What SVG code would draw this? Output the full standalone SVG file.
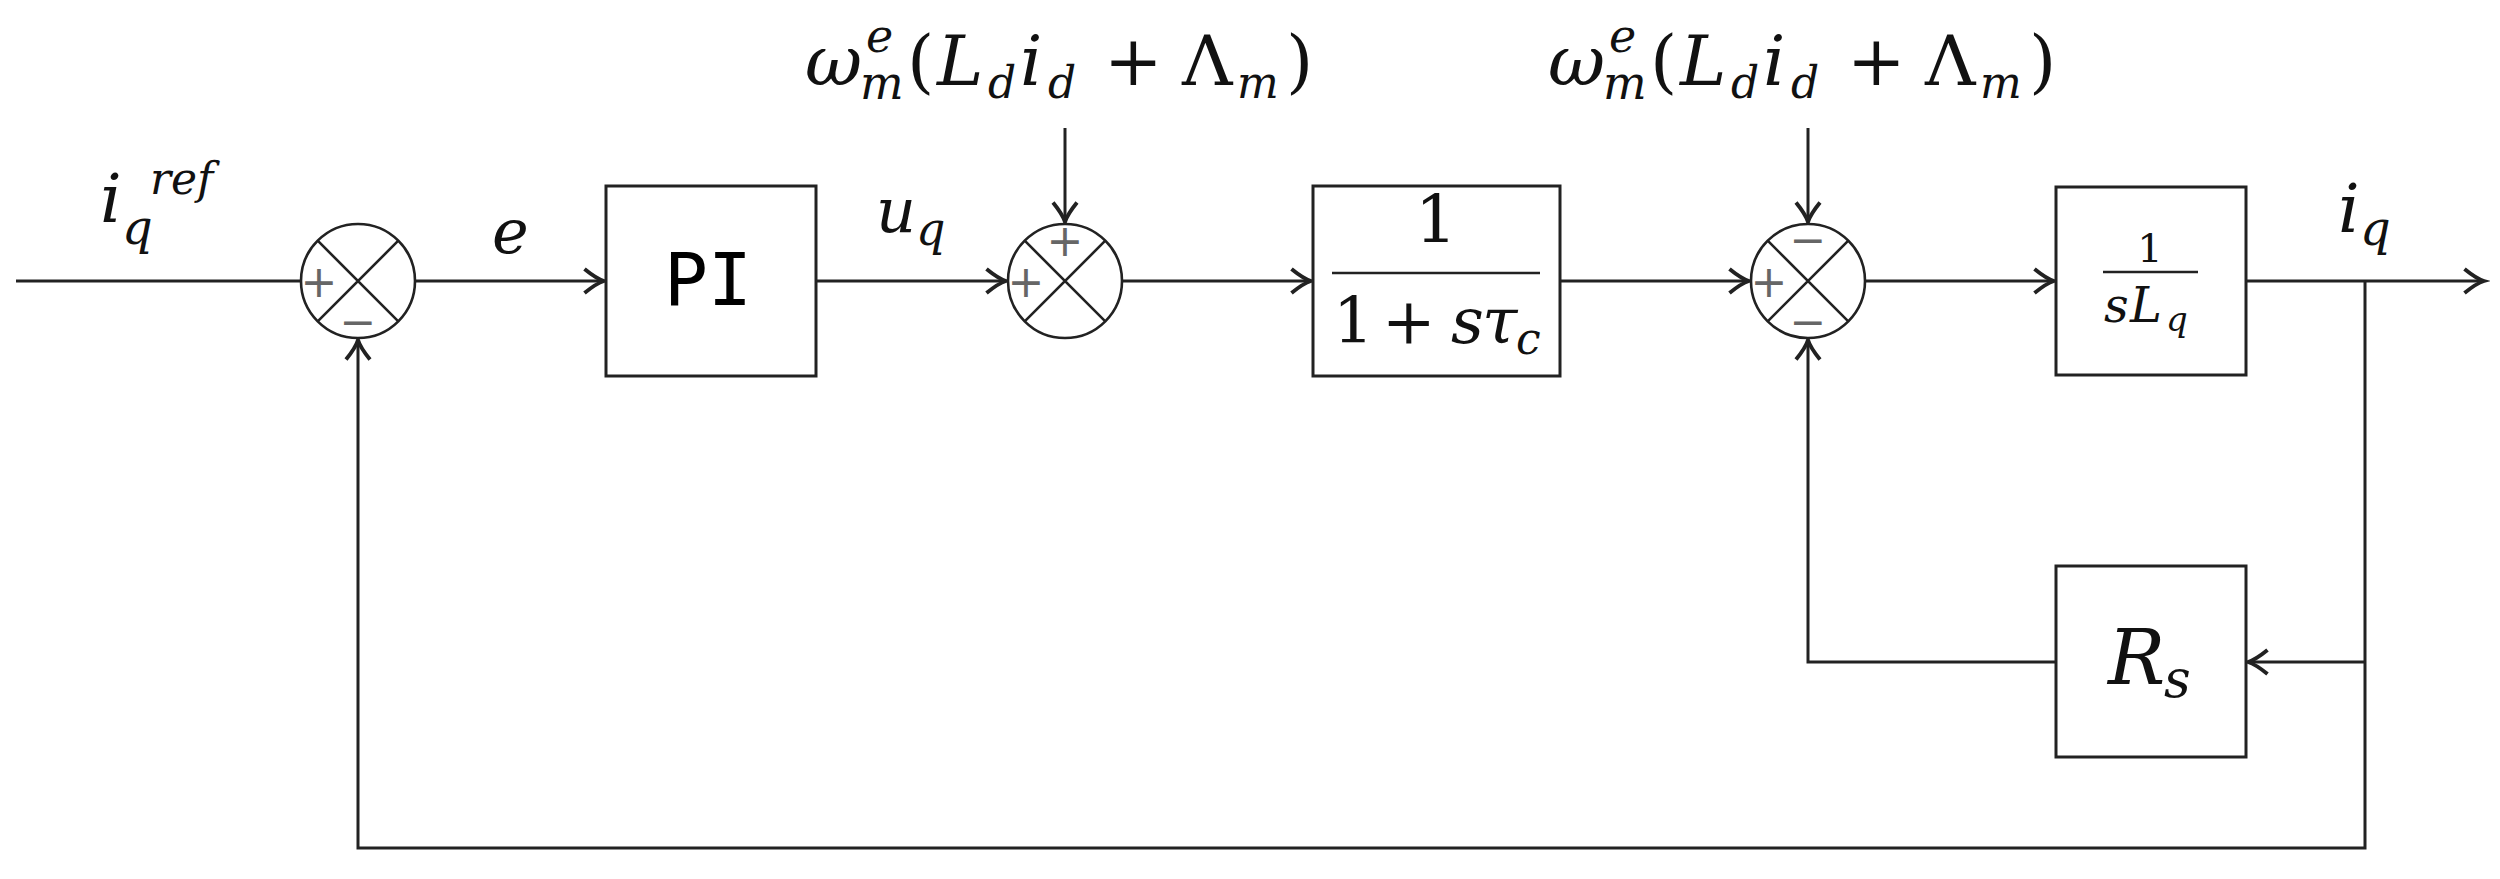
<svg xmlns="http://www.w3.org/2000/svg" width="2500" height="879" viewBox="0 0 2500 879">
<style>
.ln{fill:none;stroke:#222;stroke-width:3}
.bx{fill:#fff;stroke:#222;stroke-width:3}
.sum{fill:#fff;stroke:#222;stroke-width:2.6}
.x{stroke:#222;stroke-width:2.6}
.m{font-family:"DejaVu Serif",serif;font-style:italic;fill:#111}
.r{font-family:"DejaVu Serif",serif;font-style:normal;fill:#111}
.sg{font-family:"DejaVu Sans",sans-serif;font-size:44px;fill:#666;text-anchor:middle;dominant-baseline:central}
.fl{stroke:#222;stroke-width:2.5}
</style>
<defs>
<marker id="arr" markerUnits="userSpaceOnUse" markerWidth="30" markerHeight="30" viewBox="-16 -10 20 20" refX="0" refY="0" orient="auto">
<path d="M-13,-8 Q-5,-1.5 0,0 Q-5,1.5 -13,8" fill="none" stroke="#222" stroke-width="2.6"/>
</marker>
</defs>
<rect width="2500" height="879" fill="#fff"/>
<g id="connectors">
<path class="ln" d="M16,281 H301"/>
<path class="ln" d="M415,281 H604" marker-end="url(#arr)"/>
<path class="ln" d="M816,281 H1006" marker-end="url(#arr)"/>
<path class="ln" d="M1065,128 V222" marker-end="url(#arr)"/>
<path class="ln" d="M1122,281 H1311" marker-end="url(#arr)"/>
<path class="ln" d="M1560,281 H1749" marker-end="url(#arr)"/>
<path class="ln" d="M1808,128 V222" marker-end="url(#arr)"/>
<path class="ln" d="M1865,281 H2054" marker-end="url(#arr)"/>
<path class="ln" d="M2246,281 H2484" marker-end="url(#arr)"/>
<path class="ln" d="M2365,281 V848 H358 V340" marker-end="url(#arr)"/>
<path class="ln" d="M2365,662 H2248" marker-end="url(#arr)"/>
<path class="ln" d="M2056,662 H1808 V340" marker-end="url(#arr)"/>
</g>
<g id="sum1">
<circle class="sum" cx="358" cy="281" r="57"/>
<path class="x" d="M317.7,240.7 L398.3,321.3 M398.3,240.7 L317.7,321.3"/>
<text class="sg" x="319" y="281">+</text>
<text class="sg" x="358" y="321">−</text>
</g>
<g id="sum2">
<circle class="sum" cx="1065" cy="281" r="57"/>
<path class="x" d="M1024.7,240.7 L1105.3,321.3 M1105.3,240.7 L1024.7,321.3"/>
<text class="sg" x="1065" y="240">+</text>
<text class="sg" x="1026" y="281">+</text>
</g>
<g id="sum3">
<circle class="sum" cx="1808" cy="281" r="57"/>
<path class="x" d="M1767.7,240.7 L1848.3,321.3 M1848.3,240.7 L1767.7,321.3"/>
<text class="sg" x="1808" y="239">−</text>
<text class="sg" x="1769" y="281">+</text>
<text class="sg" x="1808" y="321">−</text>
</g>
<g id="pi">
<rect class="bx" x="606" y="186" width="210" height="190"/>
<text x="708" y="305" font-family="DejaVu Sans Mono, monospace" font-size="73" text-anchor="middle" fill="#000">PI</text>
</g>
<g id="lag">
<rect class="bx" x="1313" y="186" width="247" height="190"/>
<text class="r" x="1436" y="242" font-size="66" text-anchor="middle">1</text>
<line class="fl" x1="1332" y1="273" x2="1540" y2="273"/>
<text class="r" font-size="64"><tspan x="1333" y="343">1</tspan><tspan x="1382" y="343">+</tspan><tspan class="m" x="1451" y="343">s</tspan><tspan class="m" x="1482" y="343">τ</tspan><tspan class="m" x="1516" y="354" font-size="44">c</tspan></text>
</g>
<g id="plant">
<rect class="bx" x="2056" y="187" width="190" height="188"/>
<text class="r" x="2150" y="262" font-size="40" text-anchor="middle">1</text>
<line class="fl" x1="2103" y1="272" x2="2198" y2="272"/>
<text class="m" font-size="48"><tspan x="2104" y="322">s</tspan><tspan x="2130" y="322">L</tspan><tspan x="2166" y="331" font-size="34">q</tspan></text>
</g>
<g id="rs">
<rect class="bx" x="2056" y="566" width="190" height="191"/>
<text class="m" font-size="76"><tspan x="2108" y="684">R</tspan><tspan x="2164" y="697" font-size="52">s</tspan></text>
</g>
<g id="labels">
<text class="m" font-size="68"><tspan x="100" y="222">i</tspan><tspan x="122" y="244" font-size="48">q</tspan><tspan x="150" y="194" font-size="44">ref</tspan></text>
<text class="m" x="492" y="253" font-size="62">e</text>
<text class="m" font-size="62"><tspan x="876" y="232">u</tspan><tspan x="916" y="245" font-size="46">q</tspan></text>
<g id="dist1">
<text class="m" font-size="70"><tspan x="805" y="85">ω</tspan><tspan x="866" y="52" font-size="46">e</tspan><tspan x="860" y="99" font-size="46">m</tspan><tspan class="r" x="907" y="85">(</tspan><tspan x="937" y="85">L</tspan><tspan x="988" y="98" font-size="44">d</tspan><tspan x="1020" y="85">i</tspan><tspan x="1048" y="98" font-size="44">d</tspan><tspan class="r" x="1104" y="85">+</tspan><tspan class="r" x="1182" y="85">Λ</tspan><tspan x="1237" y="98" font-size="44">m</tspan><tspan class="r" x="1286" y="85">)</tspan></text>
</g>
<g id="dist2">
<text class="m" font-size="70"><tspan x="1548" y="85">ω</tspan><tspan x="1609" y="52" font-size="46">e</tspan><tspan x="1603" y="99" font-size="46">m</tspan><tspan class="r" x="1650" y="85">(</tspan><tspan x="1680" y="85">L</tspan><tspan x="1731" y="98" font-size="44">d</tspan><tspan x="1763" y="85">i</tspan><tspan x="1791" y="98" font-size="44">d</tspan><tspan class="r" x="1847" y="85">+</tspan><tspan class="r" x="1925" y="85">Λ</tspan><tspan x="1980" y="98" font-size="44">m</tspan><tspan class="r" x="2029" y="85">)</tspan></text>
</g>
<text class="m" font-size="68"><tspan x="2338" y="232">i</tspan><tspan x="2360" y="245" font-size="48">q</tspan></text>
</g>
</svg>
